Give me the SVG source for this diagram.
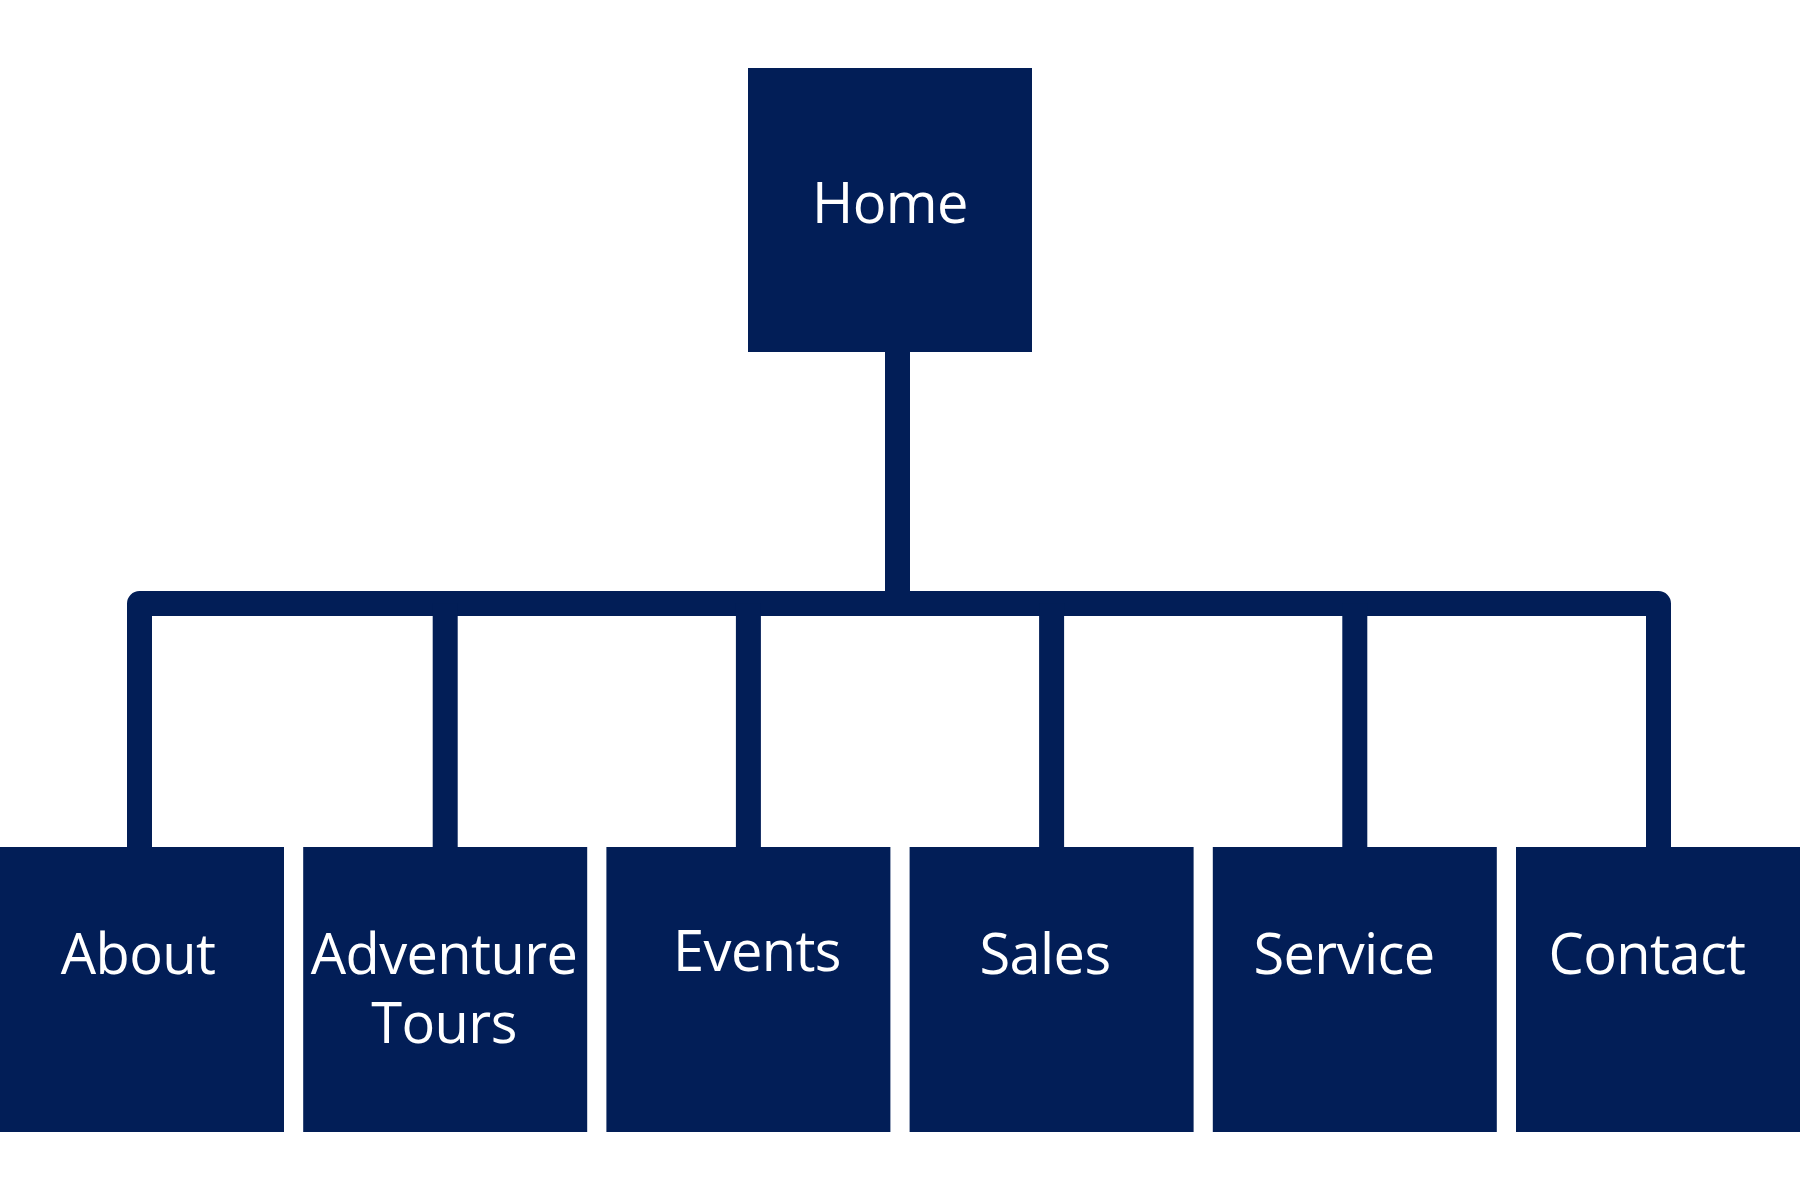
<svg xmlns="http://www.w3.org/2000/svg" width="1800" height="1200" viewBox="0 0 1800 1200">
<style>
.box{fill:#021e57}
.lbl{fill:#ffffff;font-family:"Open Sans","Noto Sans","Liberation Sans",sans-serif;font-size:56px;letter-spacing:-0.6px;text-anchor:middle}
.con{fill:none;stroke:#021e57;stroke-width:25;stroke-linejoin:round}
</style>
<rect width="1800" height="1200" fill="#ffffff"/>
<g id="connectors">
<path class="con" d="M897.5,350 V603.5"/>
<path class="con" d="M139.5,849 V603.5 H1658.5 V849"/>
<path class="con" d="M445.2,603.5 V849"/>
<path class="con" d="M748.4,603.5 V849"/>
<path class="con" d="M1051.6,603.5 V849"/>
<path class="con" d="M1354.8,603.5 V849"/>
</g>
<g id="home"><rect class="box" x="748" y="68" width="284" height="284"/><text class="lbl" x="890" y="223">Home</text></g>
<g id="about"><rect class="box" x="0" y="847" width="284" height="285"/><text class="lbl" x="138" y="974">About</text></g>
<g id="adventure-tours"><rect class="box" x="303.2" y="847" width="284" height="285"/><text class="lbl" x="444" y="974">Adventure</text><text class="lbl" x="444" y="1043">Tours</text></g>
<g id="events"><rect class="box" x="606.4" y="847" width="284" height="285"/><text class="lbl" x="757" y="971">Events</text></g>
<g id="sales"><rect class="box" x="909.6" y="847" width="284" height="285"/><text class="lbl" x="1045" y="974">Sales</text></g>
<g id="service"><rect class="box" x="1212.8" y="847" width="284" height="285"/><text class="lbl" x="1344" y="974">Service</text></g>
<g id="contact"><rect class="box" x="1516" y="847" width="284" height="285"/><text class="lbl" x="1647" y="974">Contact</text></g>
</svg>
